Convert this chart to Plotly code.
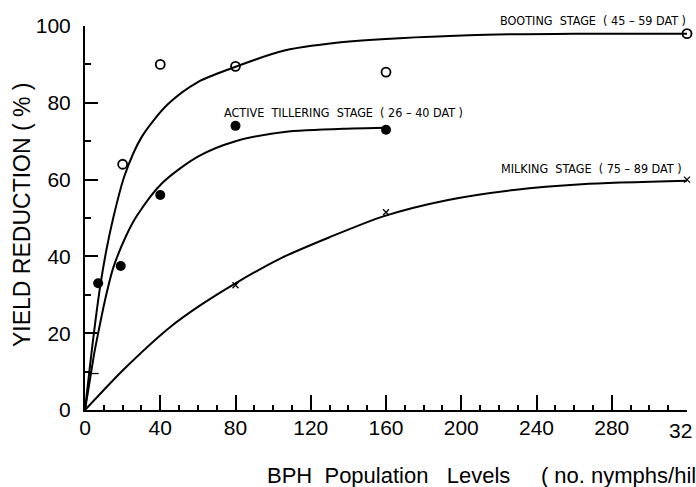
import plotly.graph_objects as go

# ---- data ----
# fitted curves
booting_curve_x = [0, 3, 5.5, 8, 11.5, 15, 21, 30, 44, 60, 78, 106, 142, 204, 260, 320]
booting_curve_y = [0, 13, 23, 32, 42, 50, 61, 71, 79.6, 85.4, 89, 93.6, 96, 97.6, 98, 98]
tillering_curve_x = [0, 3, 5, 7, 10.6, 15, 22, 27.5, 40.8, 60, 80, 106, 142, 160]
tillering_curve_y = [0, 9, 15, 20, 28.5, 37, 45.5, 50.5, 59, 66, 70, 72.4, 73.3, 73.5]
milking_curve_x = [0, 10, 20, 45, 62, 80, 104, 130, 159, 193, 228, 264, 320]
milking_curve_y = [0, 5.2, 10.3, 21.5, 27.5, 33, 39.5, 45, 50.5, 54.7, 57.3, 58.8, 59.7]

# observed points
booting_x = [20, 40, 80, 160, 320]
booting_y = [64, 90, 89.5, 88, 98]
tillering_x = [7, 19, 40, 80, 160]
tillering_y = [33, 37.5, 56, 74, 73]
milking_x = [5, 80, 160, 320]
milking_y = [9.5, 32.5, 51.5, 60]

x_ticks = [0, 40, 80, 120, 160, 200, 240, 280, 320]
x_ticktext = ["0", "40", "80", "120", "160", "200", "240", "280", ""]
x_last_label = "32"   # the last tick label, cut by the right edge in the reference
y_ticks = [0, 20, 40, 60, 80, 100]

label_booting = "BOOTING  STAGE  ( 45 – 59 DAT )"
label_tillering = "ACTIVE  TILLERING  STAGE  ( 26 – 40 DAT )"
label_milking = "MILKING  STAGE  ( 75 – 89 DAT )"
x_title = "BPH  Population   Levels     ( no. nymphs/hil"
y_title = "YIELD REDUCTION ( % )"

MAIN_FONT = "Liberation Sans, Arial, Helvetica, sans-serif"
NARROW_FONT = "Liberation Sans Narrow, DejaVu Sans Condensed, Arial Narrow, sans-serif"

fig = go.Figure()

line_style = dict(color="black", width=2, shape="spline", smoothing=0.8)
fig.add_trace(go.Scatter(x=booting_curve_x, y=booting_curve_y, mode="lines",
                         line=line_style, hoverinfo="skip", showlegend=False))
fig.add_trace(go.Scatter(x=tillering_curve_x, y=tillering_curve_y, mode="lines",
                         line=line_style, hoverinfo="skip", showlegend=False))
fig.add_trace(go.Scatter(x=milking_curve_x, y=milking_curve_y, mode="lines",
                         line=line_style, hoverinfo="skip", showlegend=False))

fig.add_trace(go.Scatter(x=booting_x, y=booting_y, mode="markers", cliponaxis=False,
                         marker=dict(symbol="circle-open", size=9, color="black",
                                     line=dict(color="black", width=1.8)),
                         showlegend=False))
fig.add_trace(go.Scatter(x=tillering_x, y=tillering_y, mode="markers", cliponaxis=False,
                         marker=dict(symbol="circle", size=10, color="black"),
                         showlegend=False))
fig.add_trace(go.Scatter(x=milking_x, y=milking_y, mode="markers", cliponaxis=False,
                         marker=dict(symbol=["line-ew", "x-thin", "x-thin", "x-thin"],
                                     size=6, color="black",
                                     line=dict(color="black", width=1.3)),
                         showlegend=False))

# plot area in window pixels: x 85..687, y 26..410
def px_x(p):
    return (p - 85) / 602.0

def px_y(p):
    return (410 - p) / 384.0

ann_font = dict(family=NARROW_FONT, size=12.5, color="black")
fig.add_annotation(x=px_x(688), y=px_y(20), xref="paper", yref="paper", text=label_booting,
                   showarrow=False, xanchor="right", yanchor="middle", font=ann_font)
fig.add_annotation(x=px_x(222), y=px_y(112), xref="paper", yref="paper", text=label_tillering,
                   showarrow=False, xanchor="left", yanchor="middle", font=ann_font)
fig.add_annotation(x=px_x(684), y=px_y(168), xref="paper", yref="paper", text=label_milking,
                   showarrow=False, xanchor="right", yanchor="middle", font=ann_font)

fig.add_annotation(x=px_x(22), y=px_y(215), xref="paper", yref="paper", text=y_title,
                   textangle=-90, showarrow=False, xanchor="center", yanchor="middle",
                   font=dict(family=MAIN_FONT, size=23, color="black"))
fig.add_annotation(x=px_x(265), y=px_y(475), xref="paper", yref="paper", text=x_title,
                   showarrow=False, xanchor="left", yanchor="middle",
                   font=dict(family=MAIN_FONT, size=22, color="black"))
fig.add_annotation(x=px_x(694), y=px_y(430), xref="paper", yref="paper", text=x_last_label,
                   showarrow=False, xanchor="right", yanchor="middle",
                   font=dict(family=MAIN_FONT, size=21, color="black"))

fig.update_xaxes(range=[0, 320], tickvals=x_ticks, ticktext=x_ticktext,
                 showline=True, linecolor="black", linewidth=2,
                 ticks="inside", ticklen=15, tickwidth=2, tickcolor="black",
                 minor=dict(dtick=10, ticks="inside", ticklen=5, tickwidth=2, tickcolor="black"),
                 showgrid=False, zeroline=False, automargin=False,
                 ticklabeloverflow="allow", ticklabelstandoff=-2,
                 tickfont=dict(family=MAIN_FONT, size=21, color="black"))
fig.update_yaxes(range=[0, 100], tickvals=y_ticks,
                 showline=True, linecolor="black", linewidth=2,
                 ticks="inside", ticklen=13, tickwidth=2, tickcolor="black",
                 minor=dict(dtick=10, ticks="inside", ticklen=6, tickwidth=2, tickcolor="black"),
                 showgrid=False, zeroline=False, automargin=False, ticklabelstandoff=8,
                 tickfont=dict(family=MAIN_FONT, size=21, color="black"))

fig.update_layout(width=696, height=487, template="none",
                  margin=dict(l=85, r=9, t=26, b=77),
                  paper_bgcolor="white", plot_bgcolor="white", showlegend=False)

fig.write_html("out.html", config={"displayModeBar": False},
               post_script="document.body.style.margin='0';")
